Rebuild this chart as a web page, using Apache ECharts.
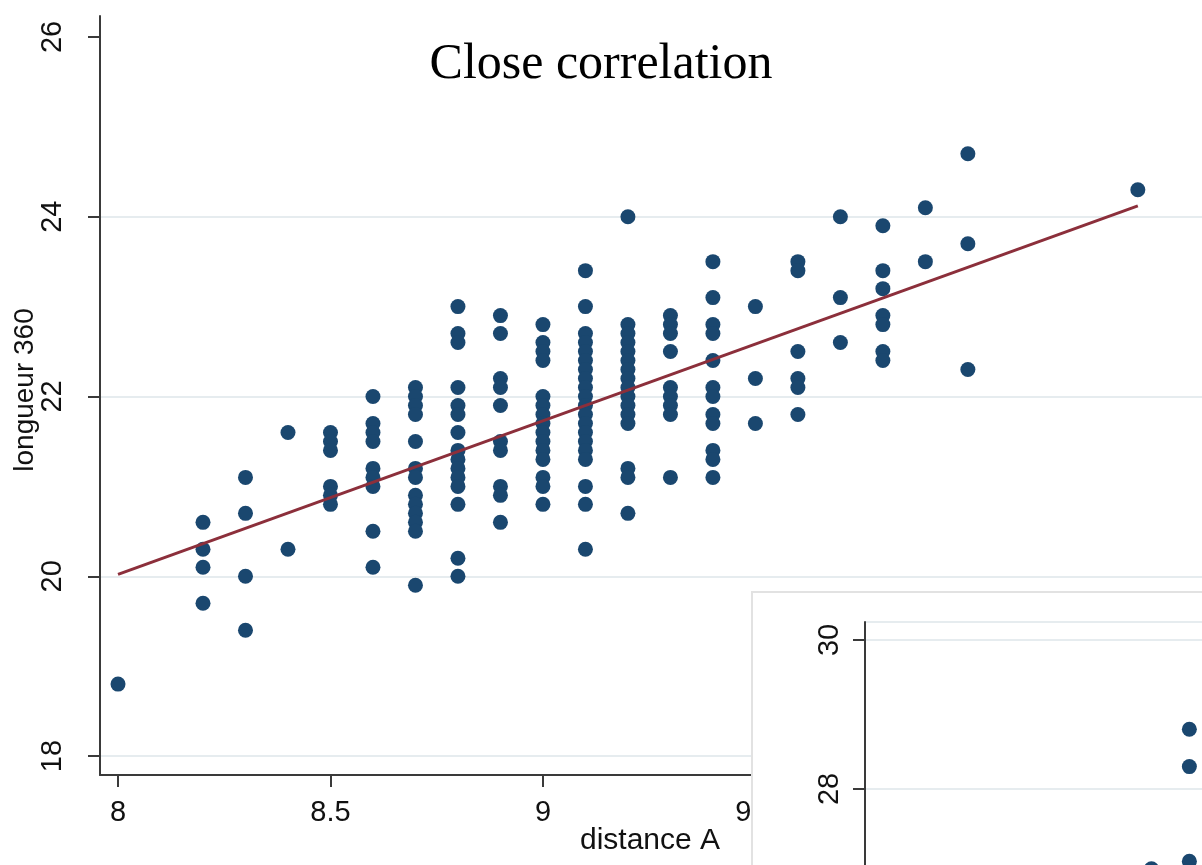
<!DOCTYPE html>
<html><head><meta charset="utf-8">
<script src="https://cdn.jsdelivr.net/npm/echarts@6/dist/echarts.min.js"></script>
<style>html,body{margin:0;padding:0;background:#fff}#c{width:1202px;height:865px}</style>
</head><body><div id="c"></div>
<script>
// distance A values (columns of points)
const xColumns = [8.0, 8.2, 8.3, 8.4, 8.5, 8.6, 8.7, 8.8, 8.9, 9.0, 9.1, 9.2, 9.3, 9.4, 9.5, 9.6, 9.7, 9.8, 9.9, 10.0, 10.4];
// longueur 360 values for each column
const yColumns = [
  [18.8],
  [20.6, 20.3, 20.1, 19.7],
  [21.1, 20.7, 20.0, 19.4],
  [21.6, 20.3],
  [21.6, 21.5, 21.4, 21.0, 20.9, 20.8],
  [22.0, 21.7, 21.6, 21.5, 21.2, 21.1, 21.0, 20.5, 20.1],
  [22.1, 22.0, 21.9, 21.8, 21.5, 21.2, 21.1, 20.9, 20.8, 20.7, 20.6, 20.5, 19.9],
  [23.0, 22.7, 22.6, 22.1, 21.9, 21.8, 21.6, 21.4, 21.3, 21.2, 21.1, 21.0, 20.8, 20.2, 20.0],
  [22.9, 22.7, 22.2, 22.1, 21.9, 21.5, 21.4, 21.0, 20.9, 20.6],
  [22.8, 22.6, 22.5, 22.4, 22.0, 21.9, 21.8, 21.7, 21.6, 21.5, 21.4, 21.3, 21.1, 21.0, 20.8],
  [23.4, 23.0, 22.7, 22.6, 22.5, 22.4, 22.3, 22.2, 22.1, 22.0, 21.9, 21.8, 21.7, 21.6, 21.5, 21.4, 21.3, 21.0, 20.8, 20.3],
  [24.0, 22.8, 22.7, 22.6, 22.5, 22.4, 22.3, 22.2, 22.1, 22.0, 21.9, 21.8, 21.7, 21.2, 21.1, 20.7],
  [22.9, 22.8, 22.7, 22.5, 22.1, 22.0, 21.9, 21.8, 21.1],
  [23.5, 23.1, 22.8, 22.7, 22.4, 22.1, 22.0, 21.8, 21.7, 21.4, 21.3, 21.1],
  [23.0, 22.2, 21.7],
  [23.5, 23.4, 22.5, 22.2, 22.1, 21.8],
  [24.0, 23.1, 22.6],
  [23.9, 23.4, 23.2, 22.9, 22.8, 22.5, 22.4],
  [24.1, 23.5],
  [24.7, 23.7, 22.3],
  [24.3]
];
// fitted line endpoints
const fitX = [8.0, 10.4];
const fitY = [20.02, 24.12];
// tick labels
const yTicks = [18, 20, 22, 24, 26];
const yGridLines = [18, 20, 22, 24];
const xTicks = [8, 8.5, 9, 9.5, 10, 10.5];
// inset panel points
const insetX = [8.77, 8.77, 8.77, 8.68];
const insetY = [28.8, 28.3, 27.03, 26.93];

const points = [];
xColumns.forEach((x, i) => yColumns[i].forEach(y => points.push([x, y])));
const fitData = fitX.map((x, i) => [x, fitY[i]]);
const insetData = insetX.map((x, i) => [x, insetY[i]]);

const SANS = "'Liberation Sans', Arial, sans-serif";
const axisCol = '#3a3a3a';
const gridCol = '#e6ecef';
const dotCol = '#1a476f';

const chart = echarts.init(document.getElementById('c'), null, {renderer: 'canvas'});
chart.setOption({
  animation: false,
  backgroundColor: '#ffffff',
  grid: [
    {left: 100, top: 16, width: 1102, height: 759, containLabel: false, outerBoundsMode: 'none'},
    {left: 865, top: 622, width: 337, height: 316, containLabel: false, outerBoundsMode: 'none'}
  ],
  xAxis: [
    {
      type: 'value', gridIndex: 0, min: 7.9576, max: 10.551,
      axisLine: {show: true, onZero: false, lineStyle: {color: axisCol, width: 2}},
      axisTick: {show: true, length: 12, customValues: xTicks, lineStyle: {color: axisCol, width: 2}},
      axisLabel: {show: true, customValues: xTicks, margin: 23, fontSize: 29, color: '#111', fontFamily: SANS},
      splitLine: {show: false}
    },
    {
      type: 'value', gridIndex: 1, min: 8, max: 8.8, show: false
    }
  ],
  yAxis: [
    {
      type: 'value', gridIndex: 0, min: 17.789, max: 26.233,
      axisLine: {show: true, onZero: false, lineStyle: {color: axisCol, width: 2}},
      axisTick: {show: true, length: 12, customValues: yTicks, lineStyle: {color: axisCol, width: 2}},
      axisLabel: {show: true, customValues: yTicks, rotate: 90, margin: 33, fontSize: 29, color: '#111', fontFamily: SANS},
      splitLine: {show: false}
    },
    {
      type: 'value', gridIndex: 0, min: 17.789, max: 26.233, position: 'left',
      axisLine: {show: false},
      axisTick: {show: false, customValues: yGridLines},
      axisLabel: {show: false},
      splitLine: {show: true, lineStyle: {color: gridCol, width: 2}}
    },
    {
      type: 'value', gridIndex: 1, min: 26, max: 30.24, interval: 2, z: 25,
      axisLine: {show: true, onZero: false, lineStyle: {color: axisCol, width: 2}},
      axisTick: {show: true, length: 12, lineStyle: {color: axisCol, width: 2}},
      axisLabel: {show: true, rotate: 90, margin: 21, fontSize: 29, color: '#111', fontFamily: SANS},
      splitLine: {show: true, lineStyle: {color: gridCol, width: 2}}
    }
  ],
  series: [
    {
      type: 'scatter', xAxisIndex: 0, yAxisIndex: 0, z: 3,
      symbol: 'circle', symbolSize: 15,
      itemStyle: {color: dotCol, opacity: 1},
      data: points
    },
    {
      type: 'line', xAxisIndex: 0, yAxisIndex: 0, z: 4,
      symbol: 'none',
      lineStyle: {color: '#8c2f3b', width: 3},
      data: fitData
    },
    {
      type: 'scatter', xAxisIndex: 1, yAxisIndex: 2, z: 30,
      symbol: 'circle', symbolSize: 15,
      itemStyle: {color: dotCol, opacity: 1},
      data: insetData
    }
  ],
  graphic: [
    {
      type: 'text', left: 'center', top: 40, z: 20,
      style: {text: 'Close correlation', font: "50px 'Liberation Serif', 'Times New Roman', serif", fill: '#000'}
    },
    {
      type: 'text', x: 25, y: 390, rotation: Math.PI / 2, z: 20,
      style: {text: 'longueur 360', fontSize: 28, fontFamily: SANS, fill: '#111', align: 'center', verticalAlign: 'middle'}
    },
    {
      type: 'text', x: 650, y: 841, z: 20,
      style: {text: 'distance A', fontSize: 30, fontFamily: SANS, fill: '#111', align: 'center', verticalAlign: 'middle'}
    },
    {
      type: 'rect', z: 10,
      shape: {x: 752, y: 592, width: 470, height: 300},
      style: {fill: '#ffffff', stroke: '#e2e2e2', lineWidth: 2}
    }
  ]
});
</script>
</body></html>
